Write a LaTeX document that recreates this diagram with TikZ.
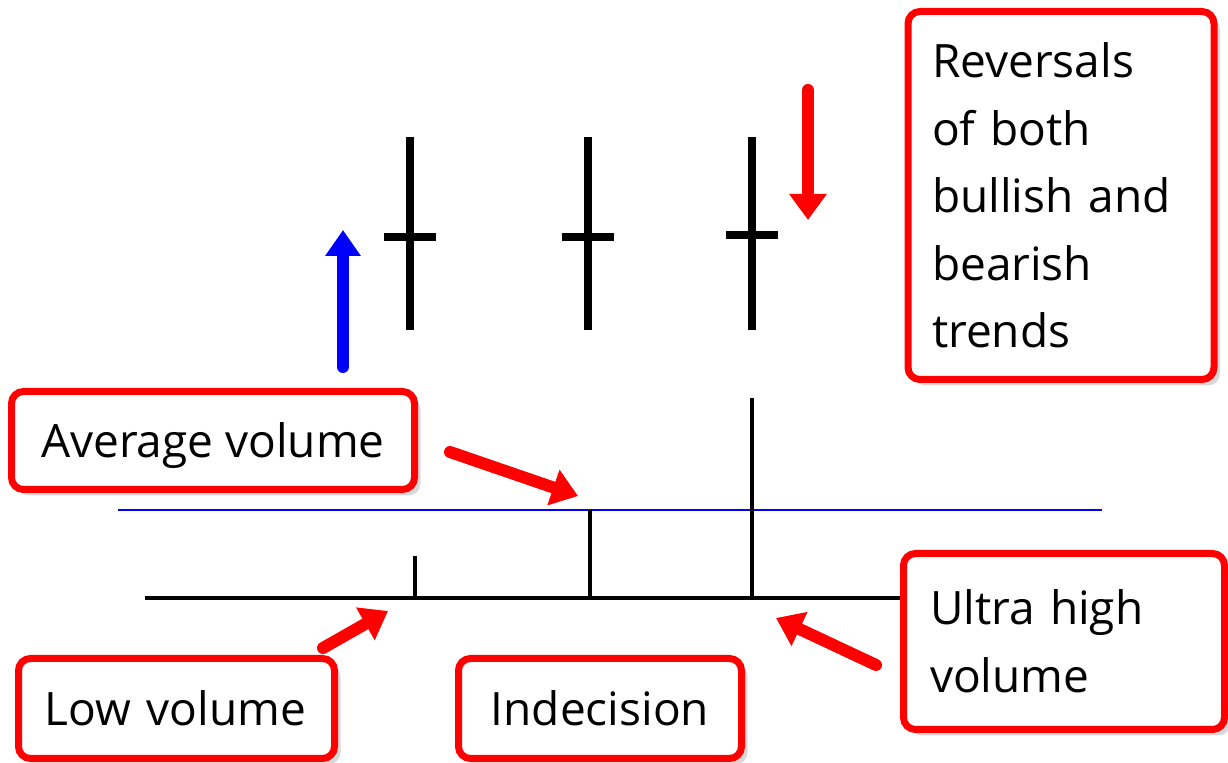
\documentclass[tikz,border=0pt]{standalone}
\usepackage{fontspec}
\setmainfont{Open Sans}
\usetikzlibrary{arrows.meta,shadows}
\begin{document}
\begin{tikzpicture}[x=0.5pt,y=-0.5pt,
  lbl/.style={draw=red, line width=3.5pt, rounded corners=6pt, fill=white,
    inner sep=0pt, font=\fontsize{23pt}{33.75pt}\selectfont,
    drop shadow={shadow xshift=3pt, shadow yshift=-3pt, opacity=0.3}},
  oneline/.style={text depth=0pt},
  redarrow/.style={draw=red, line width=6pt, line cap=round,
    -{Triangle[length=13pt,width=18pt]}},
  bluearrow/.style={draw=blue, line width=6pt, line cap=round,
    -{Triangle[length=13pt,width=17pt]}},
  candle/.style={draw=black, line width=4pt},
  volbar/.style={draw=black, line width=2pt},
  axisline/.style={draw=black, line width=1.6pt},
  avgline/.style={draw=blue, line width=1pt}]
\useasboundingbox[fill=white] (0,0) rectangle (1228,763);

% boxes
\node[lbl, minimum width=153pt, minimum height=184pt, text width=129pt, align=left]
  (rev) at (1061,195.5) {Reversals\\of both\\bullish and\\bearish\\trends};
\node[lbl, oneline, minimum width=201.5pt, minimum height=49pt] (avg) at (213,440.5) {Average volume};
\node[lbl, oneline, minimum width=158pt, minimum height=50pt, text width=131.5pt, align=left]
  (low) at (176.5,708.5) {Low volume};
\node[lbl, oneline, minimum width=141.5pt, minimum height=50pt] (ind) at (600,708.5) {Indecision};
\node[lbl, minimum width=160.5pt, minimum height=88pt, text width=134pt, align=left]
  (ultra) at (1064,641.5) {Ultra high\\volume};

% average volume line and axis
\coordinate (avgL) at (118,510);
\coordinate (avgR) at (1102,510);
\draw[avgline] (avgL) -- (avgR);
\coordinate (axL) at (145,598);
\draw[axisline] (axL) -- (axL -| ultra.west);

% volume bars
\draw[volbar] (415,598) -- (415,556);
\draw[volbar] (590,598) -- (590,510);
\draw[volbar] (752,598) -- (752,398);

% doji candles
\draw[candle] (410,137) -- (410,330) (384,237) -- (436,237);
\draw[candle] (588,137) -- (588,330) (562,237) -- (614,237);
\draw[candle] (752,137) -- (752,330) (726,235) -- (778,235);

% trend arrows
\coordinate (bu0) at (343,367);
\coordinate (bu1) at (343,230);
\draw[bluearrow] (bu0) -- (bu1);
\coordinate (rd0) at (808,90);
\coordinate (rd1) at (808,220);
\draw[redarrow] (rd0) -- (rd1);

% pointer arrows
\coordinate (a1s) at (450,452);
\coordinate (a1e) at (578,496);
\draw[redarrow] (a1s) -- (a1e);
\coordinate (a2s) at (323,648);
\coordinate (a2e) at (388,611);
\draw[redarrow] (a2s) -- (a2e);
\coordinate (a3s) at (876,665);
\coordinate (a3e) at (776,618);
\draw[redarrow] (a3s) -- (a3e);
\end{tikzpicture}
\end{document}
